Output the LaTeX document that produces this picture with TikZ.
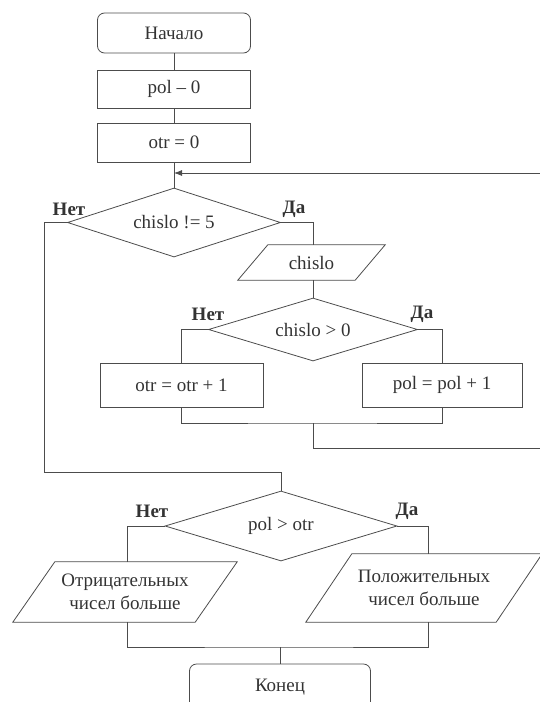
\documentclass[tikz,border=0pt]{standalone}
\usepackage{fontspec}
\setmainfont{Liberation Serif}
\usetikzlibrary{shapes.geometric, arrows.meta}

\begin{document}
\begin{tikzpicture}[x=1pt, y=-1pt, >={Latex[length=8pt,width=6pt]},
		every node/.style={font=\fontsize{19}{23}\selectfont, text=black!80},
		line/.style={draw=black!70, line width=0.8pt},
		proc/.style={line, rectangle, minimum width=#1, minimum height=40pt, inner sep=0pt},
		term/.style={proc=#1, rounded corners=7pt},
		cond/.style={line, diamond, inner sep=0pt, shape aspect=3.2},
		io/.style={rectangle, inner sep=0pt, align=center},
		yesno/.style={font=\fontsize{19}{23}\selectfont\bfseries}]
		\useasboundingbox (0,0) rectangle (539,702);

		% main column
		\draw (174,33) node[term=153pt] (start) {Начало};
		\draw (174,89) node[proc=153pt, minimum height=38pt] (pol0) {pol – 0};
		\draw (174,142.5) node[proc=153pt, minimum height=39pt] (otr0) {otr = 0};
		\draw (174,222.5) node[cond, minimum width=213pt, minimum height=69pt] (loop) {chislo != 5};
		\draw (69,209) node[yesno] (loopno) {Нет};
		\draw (294,209) node[yesno] (loopyes) {Да};

		% loop body
		\draw (311.5,262.5) node[io, minimum width=117pt, minimum height=35pt] (input) {chislo};
		\draw (313,329.5) node[cond, minimum width=209pt, minimum height=63pt] (sign) {chislo > 0};
		\draw (208,314) node[yesno] (signno) {Нет};
		\draw (422,314) node[yesno] (signyes) {Да};
		\draw (181.5,385) node[proc=163pt, minimum height=44pt] (otr1) {otr = otr + 1};
		\draw (442,385) node[proc=160pt, minimum height=44pt] (pol1) {pol = pol + 1};

		% result
		\draw (281,526) node[cond, minimum width=232pt, minimum height=70pt] (cmp) {pol > otr};
		\draw (152,511) node[yesno] (cmpno) {Нет};
		\draw (407,511) node[yesno] (cmpyes) {Да};
		\draw (125,592) node[io, minimum width=182pt, minimum height=60pt] (neg) {Отрицательных\\чисел больше};
		\draw (424,588) node[io, minimum width=190pt, minimum height=68pt] (pos) {Положительных\\чисел больше};
		\draw (280,687) node[term=181pt, minimum height=46pt] (stop) {Конец};

		% parallelograms
		\draw[line] ([xshift=15pt]input.north west) -- ([xshift=15pt]input.north east) -- ([xshift=-15pt]input.south east) -- ([xshift=-15pt]input.south west) -- cycle;
		\draw[line] ([xshift=21pt]neg.north west) -- ([xshift=21pt]neg.north east) -- ([xshift=-21pt]neg.south east) -- ([xshift=-21pt]neg.south west) -- cycle;
		\draw[line] ([xshift=23pt]pos.north west) -- ([xshift=23pt]pos.north east) -- ([xshift=-23pt]pos.south east) -- ([xshift=-23pt]pos.south west) -- cycle;

		\coordinate (back) at (174,173);
		\coordinate (outer) at (548,448);
		\coordinate (join) at (313,423);
		\coordinate (merge) at (280,647);

		% connectors
		\draw[line] (start) -- (pol0);
		\draw[line] (pol0) -- (otr0);
		\draw[line] (otr0) -- (loop);
		\draw[line] (loop.east) -| (input.north -| join);
		\draw[line] (input.south -| join) -- (sign);
		\draw[line] (sign.west) -| (otr1.north);
		\draw[line] (sign.east) -| (pol1.north);
		\draw[line] (otr1.south) |- (join) -| (pol1.south);
		\draw[line, ->] (join) |- (outer) |- (back);
		\draw[line] (loop.west) -| (44,472) -| (cmp.north);
		\draw[line] (cmp.west) -| (neg.north -| 127,0);
		\draw[line] (cmp.east) -| (pos.north -| 428,0);
		\draw[line] (neg.south -| 127,0) |- (merge) -| (pos.south -| 428,0);
		\draw[line] (merge) -- (stop);
	\end{tikzpicture}
\end{document}
